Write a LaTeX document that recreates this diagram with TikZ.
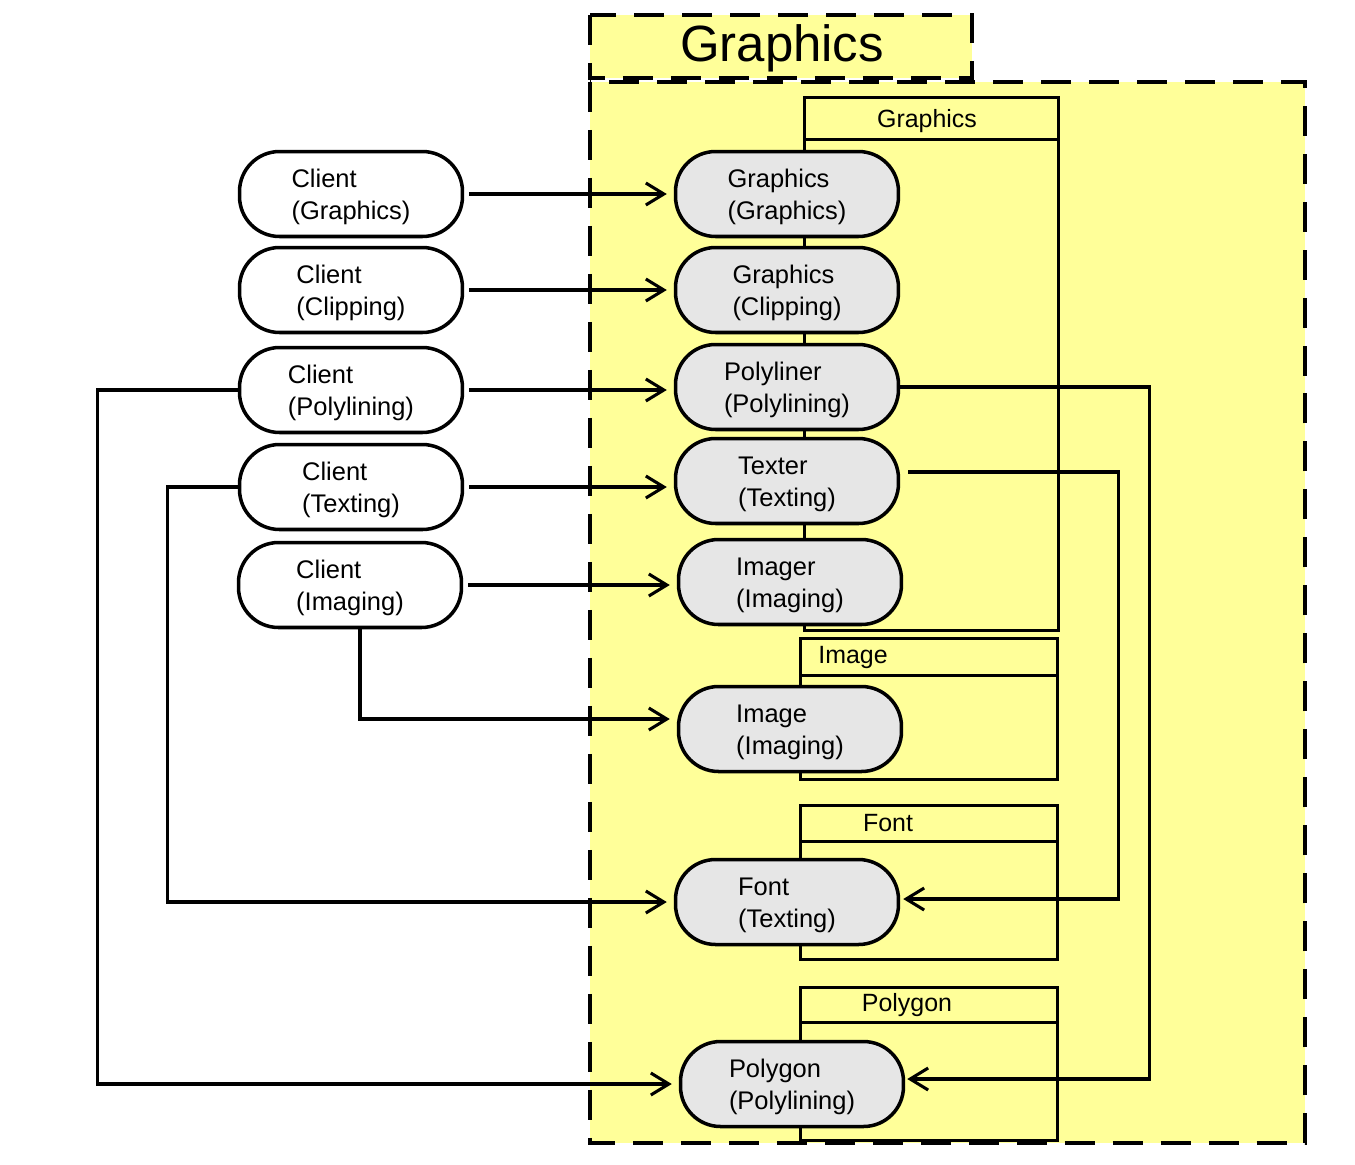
\documentclass[tikz,border=0pt]{standalone}
\usepackage{fontspec}
\setmainfont{Liberation Sans}
\usetikzlibrary{arrows.meta}
\definecolor{ylw}{HTML}{FFFF99}
\definecolor{gry}{HTML}{E6E6E6}
\newcommand{\topstrut}{\rule{0pt}{14.2pt}}
\begin{document}
\begin{tikzpicture}[x=0.02cm,y=-0.02cm,
  dbox/.style={draw=black, fill=ylw, line width=2.3pt, dash pattern=on 0.6cm off 0.36cm},
  comp/.style={draw=black, line width=1.7pt},
  proc/.style={draw=black, line width=2pt, rounded corners=0.8cm, minimum width=4.46cm, minimum height=1.7cm, inner sep=0pt, align=left, font={\fontsize{14.5pt}{18.2pt}\selectfont}},
  client/.style={proc, fill=white},
  server/.style={proc, fill=gry},
  clabel/.style={font={\fontsize{14.2pt}{16pt}\selectfont}, inner sep=0pt},
  arr/.style={line width=1.75pt, -{Straight Barb[length=0.36cm,width=0.44cm]}, shorten >=0.14cm, shorten <=0.1cm},
]
\useasboundingbox (0,0) rectangle (1355,1164);

% enclosing package boxes
\draw[dbox] (590,82) rectangle (1305,1143);
\draw[dbox] (590,15) rectangle (972,78);
\node[inner sep=0pt, font={\fontsize{29pt}{32pt}\selectfont}] (title) at (782,48) {Graphics};

% component boxes
\draw[comp] (804,97) rectangle (1058,630);
\draw[comp] (804,139) -- (1058,139);
\node[clabel] (lg) at (927,121) {Graphics};

\draw[comp] (800,638) rectangle (1057,779);
\draw[comp] (800,675) -- (1057,675);
\node[clabel] (li) at (853,657) {Image};

\draw[comp] (800,805) rectangle (1057,959);
\draw[comp] (800,841) -- (1057,841);
\node[clabel] (lf) at (888,823) {Font};

\draw[comp] (800,987) rectangle (1057,1140);
\draw[comp] (800,1022) -- (1057,1022);
\node[clabel] (lp) at (907,1005) {Polygon};

% client nodes
\node[client] (c1) at (351,194) {\topstrut Client\\(Graphics)};
\node[client] (c2) at (351,290) {\topstrut Client\\(Clipping)};
\node[client] (c3) at (351,390) {\topstrut Client\\(Polylining)};
\node[client] (c4) at (351,487) {\topstrut Client\\(Texting)};
\node[client] (c5) at (350,585) {\topstrut Client\\(Imaging)};

% server nodes
\node[server] (s1) at (787,194) {\topstrut Graphics\\(Graphics)};
\node[server] (s2) at (787,290) {\topstrut Graphics\\(Clipping)};
\node[server] (s3) at (787,387) {\topstrut Polyliner\\(Polylining)};
\node[server] (s4) at (787,481) {\topstrut Texter\\(Texting)};
\node[server] (s5) at (790,582) {\topstrut Imager\\(Imaging)};
\node[server] (s6) at (790,729) {\topstrut Image\\(Imaging)};
\node[server] (s7) at (787,902) {\topstrut Font\\(Texting)};
\node[server] (s8) at (792,1084) {\topstrut Polygon\\(Polylining)};

% straight connectors
\draw[arr] (c1.east) -- (c1.east -| s1.west);
\draw[arr] (c2.east) -- (c2.east -| s2.west);
\draw[arr] (c3.east) -- (c3.east -| s3.west);
\draw[arr] (c4.east) -- (c4.east -| s4.west);
\draw[arr] (c5.east) -- (c5.east -| s5.west);

% bent connectors
\draw[arr, shorten <=0pt] ([xshift=0.2cm]c5.south) |- ([yshift=0.2cm]s6.west);
\draw[arr, shorten <=0pt] (c4.west) -- ++(-1.4cm,0) |- (s7.west);
\draw[arr, shorten <=0pt] (c3.west) -- ++(-2.8cm,0) |- (s8.west);
\draw[arr, shorten <=0pt, shorten >=0.04cm] (s3.east) -- ++(4.98cm,0) |- ([yshift=0.1cm]s8.east);
\draw[arr, shorten <=0.16cm, shorten >=0.06cm] ([yshift=0.18cm]s4.east) -- ++(4.36cm,0) |- ([yshift=0.06cm]s7.east);
\end{tikzpicture}
\end{document}
